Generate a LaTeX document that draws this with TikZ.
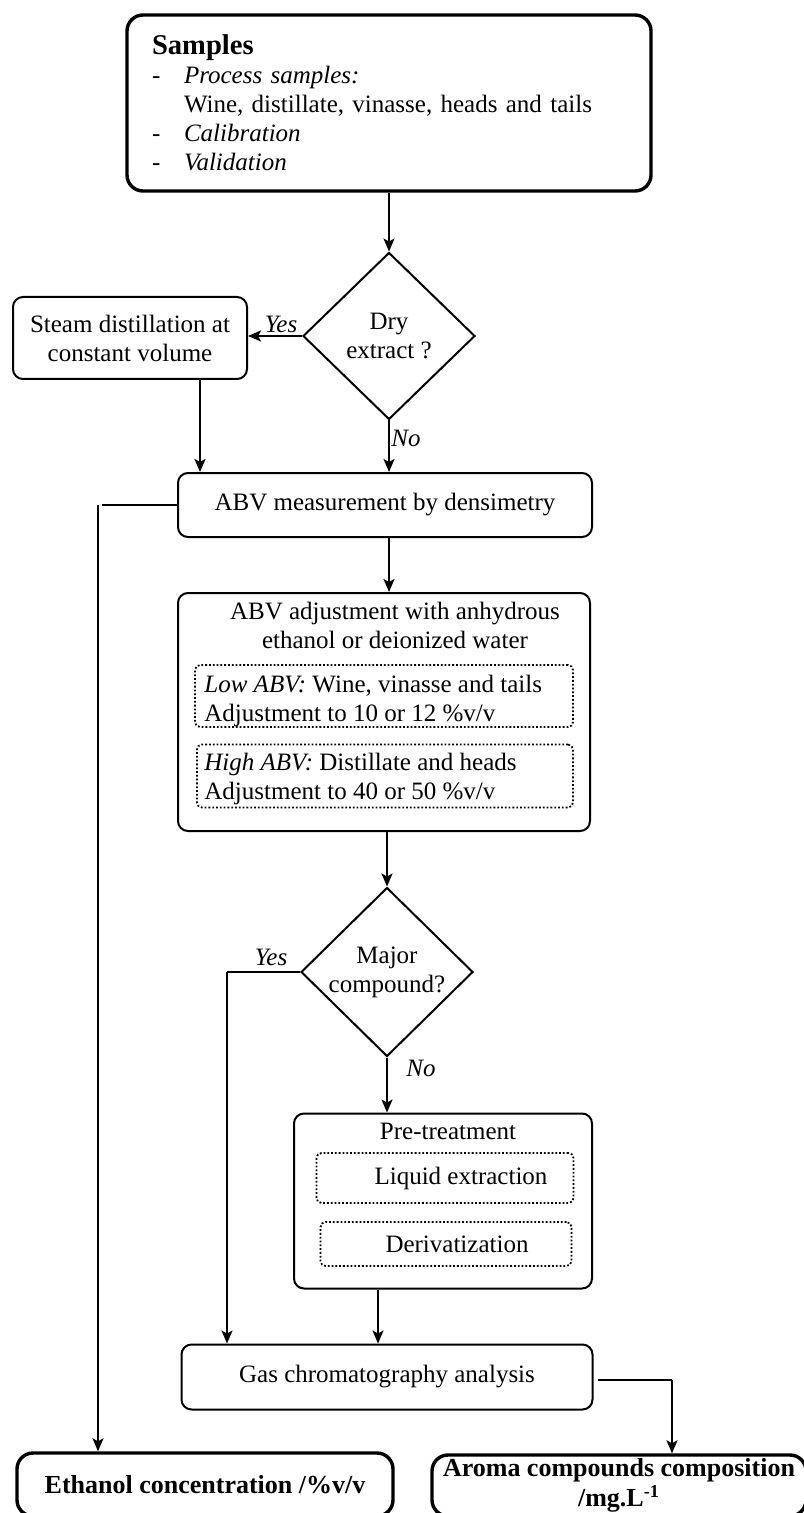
\documentclass[tikz,border=0pt]{standalone}
\usepackage{fontspec}
\setmainfont{Liberation Serif}
\usetikzlibrary{shapes.geometric,arrows.meta,calc}
\newcommand\myfs{\fontsize{12.5}{14.5}\selectfont}
\newcommand\mybf{\fontsize{13}{15}\selectfont\bfseries}
\tikzset{
  box/.style={draw, rounded corners=5pt, line width=1pt, inner sep=0pt, align=center, font=\myfs},
  thickbox/.style={draw, rounded corners=8pt, line width=1.7pt, inner sep=0pt, align=center},
  dotbox/.style={draw, densely dotted, line width=0.9pt, rounded corners=2.5pt, inner sep=0pt, align=center, font=\myfs},
  dia/.style={draw, diamond, line width=1pt, inner sep=0pt, align=center, font=\myfs},
  txt/.style={inner sep=0pt, align=center, font=\myfs},
  lbl/.style={inner sep=0pt, font=\myfs\itshape},
  arr/.style={line width=1pt, -{Stealth[length=6.5pt,width=5.5pt,inset=1.5pt]}},
  thinline/.style={line width=0.6pt}
}
\begin{document}
\begin{tikzpicture}[x=0.5pt,y=-0.5pt]
\useasboundingbox (0,0) rectangle (803,1513);
% Samples
\node[thickbox, minimum width=262pt, minimum height=88pt, text width=237pt, align=left, font=\myfs] (samples) at (389,103)
 {{\fontsize{14.3}{16}\selectfont\bfseries Samples}\\
  \makebox[16pt][l]{-}\textit{Process samples:}\\
  \hspace*{16pt}Wine, distillate, vinasse, heads and tails\\
  \makebox[16pt][l]{-}\textit{Calibration}\\
  \makebox[16pt][l]{-}\textit{Validation}};
% Dry extract
\node[dia, minimum width=86pt, minimum height=83.5pt] (dry) at (389,336) {Dry\\extract ?};
\node[box, minimum width=117pt, minimum height=41pt] (steam) at (130,338) {Steam distillation at\\constant volume};
\node[box, minimum width=207pt, minimum height=32pt] (abv) at (385,505) {ABV measurement by densimetry};
% ABV adjustment
\node[box, minimum width=206pt, minimum height=119pt] (adj) at (384,712) {};
\node[txt] (adjt) at (395,625) {ABV adjustment with anhydrous\\ethanol or deionized water};
\node[dotbox, minimum width=189pt, minimum height=31pt] (low) at (384,696) {};
\node[txt, anchor=west, align=left] (lowt) at (204,701) {\textit{Low ABV:} Wine, vinasse and tails\\Adjustment to 10 or 12 \%v/v};
\node[dotbox, minimum width=188pt, minimum height=31.5pt] (high) at (385,776) {};
\node[txt, anchor=west, align=left] (hight) at (204,779) {\textit{High ABV:} Distillate and heads\\Adjustment to 40 or 50 \%v/v};
% Major compound
\node[dia, minimum width=86pt, minimum height=84.5pt] (major) at (387,972) {Major\\compound?};
% Pre-treatment
\node[box, minimum width=149pt, minimum height=87.5pt] (pre) at (443,1201) {};
\node[txt] (pret) at (448,1131) {Pre-treatment};
\node[dotbox, minimum width=128.5pt, minimum height=25pt] (liq) at (445,1178) {\hspace*{16pt}Liquid extraction};
\node[dotbox, minimum width=125.5pt, minimum height=22pt] (der) at (446,1244) {\hspace*{11pt}Derivatization};
% Gas chromatography
\node[box, minimum width=205.5pt, minimum height=32.5pt] (gas) at (387,1377) {Gas chromatography analysis};
% Results
\node[thickbox, minimum width=188pt, minimum height=31.5pt, font=\mybf] (eth) at (205,1484.5) {Ethanol concentration /\%v/v};
\node[thickbox, minimum width=187pt, minimum height=30.5pt, font=\mybf] (aroma) at (619,1485.5) {Aroma compounds composition\\/mg.L\textsuperscript{-1}};
% connector helper coordinates
\coordinate (steamout) at ([xshift=35pt]steam.south);
\coordinate (ethin) at ([xshift=-53.5pt]eth.north);
\coordinate (gasin1) at ([xshift=-80pt]gas.north);
\coordinate (gasin2) at ([xshift=-4.5pt]gas.north);
\coordinate (arin) at ([xshift=26.5pt]aroma.north);
\coordinate (gasout) at ([xshift=2pt,yshift=-1.5pt]gas.east);
% connectors
\draw[arr] (samples.south) -- (dry.north);
\draw[arr] (dry.west) -- (dry.west -| steam.east);
\node[lbl] (yes1) at (281,324) {Yes};
\draw[arr] (steamout) -- (steamout |- abv.north);
\draw[arr] (dry.south) -- (dry.south |- abv.north);
\node[lbl] (no1) at (406,438) {No};
\draw[thinline] (abv.west) -- ([xshift=2pt]abv.west -| ethin);
\draw[arr] (abv.west -| ethin) -- (ethin);
\draw[arr] (dry.south |- abv.south) -- (dry.south |- adj.north);
\draw[arr] (major.north |- adj.south) -- (major.north);
\draw[thinline] (major.west) -- (major.west -| gasin1);
\draw[arr] (major.west -| gasin1) -- (gasin1);
\node[lbl] (yes2) at (271,957) {Yes};
\draw[arr] (major.south) -- (major.south |- pre.north);
\node[lbl] (no2) at (421,1068) {No};
\draw[arr] (gasin2 |- pre.south) -- (gasin2);
\draw[thinline] (gasout) -- (gasout -| arin);
\draw[arr] (gasout -| arin) -- (arin);
\end{tikzpicture}
\end{document}
